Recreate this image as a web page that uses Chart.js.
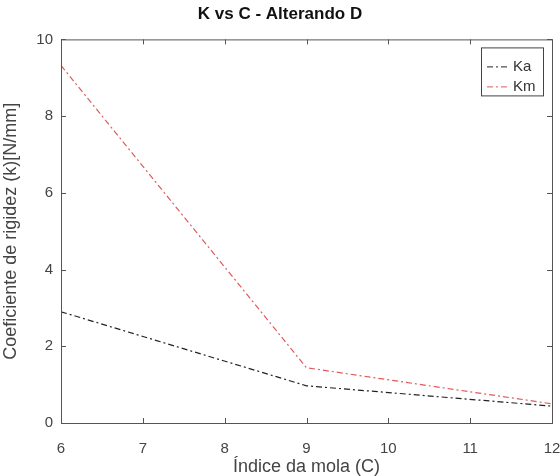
<!DOCTYPE html>
<html>
<head>
<meta charset="utf-8">
<script src="https://cdn.jsdelivr.net/npm/chart.js@4/dist/chart.umd.min.js"></script>
<style>
  html, body { margin: 0; padding: 0; background: #fff; }
  #wrap { width: 560px; height: 476px; }
</style>
</head>
<body>
<div id="wrap"><canvas id="myChart1"></canvas></div>
<script>
// data
var indiceC = [6, 9, 12];
var ka = [2.9, 0.97, 0.44];
var km = [9.32, 1.44, 0.5];
var xTicks = [6, 7, 8, 9, 10, 11, 12];
var yTicks = [0, 2, 4, 6, 8, 10];

var font = "'Liberation Sans', Arial, sans-serif";

// box around the axes, inward ticks and the legend inside the plot (MATLAB look)
var boxPlugin = {
  id: 'box',
  afterDraw: function (chart) {
    var ctx = chart.ctx, a = chart.chartArea;
    var xs = chart.scales.x, ys = chart.scales.y;
    ctx.save();
    ctx.strokeStyle = '#555';
    ctx.lineWidth = 1;
    ctx.setLineDash([]);
    ctx.strokeRect(a.left + 0.5, a.top + 0.5, a.right - a.left, a.bottom - a.top);
    ctx.beginPath();
    xTicks.forEach(function (v) {
      var px = Math.round(xs.getPixelForValue(v)) + 0.5;
      ctx.moveTo(px, a.bottom); ctx.lineTo(px, a.bottom - 5);
      ctx.moveTo(px, a.top); ctx.lineTo(px, a.top + 5);
    });
    yTicks.forEach(function (v) {
      var py = Math.round(ys.getPixelForValue(v)) + 0.5;
      ctx.moveTo(a.left, py); ctx.lineTo(a.left + 5, py);
      ctx.moveTo(a.right, py); ctx.lineTo(a.right - 5, py);
    });
    ctx.stroke();

    // legend
    var lx = a.right - 71, ly = a.top + 8, lw = 62, lh = 48;
    ctx.fillStyle = '#fff';
    ctx.fillRect(lx, ly, lw, lh);
    ctx.strokeStyle = '#444';
    ctx.strokeRect(lx + 0.5, ly + 0.5, lw, lh);
    ctx.font = '15px ' + font;
    ctx.textBaseline = 'middle';
    chart.data.datasets.forEach(function (ds, i) {
      var y = ly + 19 + i * 20;
      ctx.strokeStyle = ds.borderColor;
      ctx.setLineDash(ds.borderDash);
      ctx.beginPath();
      ctx.moveTo(lx + 6, y + 0.5); ctx.lineTo(lx + 28, y + 0.5);
      ctx.stroke();
      ctx.setLineDash([]);
      ctx.fillStyle = '#333';
      ctx.fillText(ds.label, lx + 32, y);
    });
    ctx.restore();
  }
};

var ctx = document.getElementById('myChart1').getContext('2d');
var myChart = new Chart(ctx, {
  type: 'line',
  data: {
    datasets: [{
      label: 'Ka',
      data: indiceC.map(function (c, i) { return { x: c, y: ka[i] }; }),
      borderColor: '#222',
      borderWidth: 1.2,
      borderDash: [6, 3, 2, 3],
      pointRadius: 0,
      fill: false,
      tension: 0
    }, {
      label: 'Km',
      data: indiceC.map(function (c, i) { return { x: c, y: km[i] }; }),
      borderColor: '#e05a5a',
      borderWidth: 1.2,
      borderDash: [6, 3, 2, 3],
      pointRadius: 0,
      fill: false,
      tension: 0
    }]
  },
  options: {
    responsive: true,
    maintainAspectRatio: false,
    animation: false,
    layout: { padding: { left: 0, right: 0, top: 0, bottom: 0 } },
    plugins: {
      legend: { display: false },
      tooltip: { enabled: false },
      title: {
        display: true,
        text: 'K vs C - Alterando D',
        color: '#111',
        font: { family: font, size: 17, weight: 'bold' },
        padding: { top: 4, bottom: 15 }
      }
    },
    scales: {
      x: {
        type: 'linear',
        min: 6,
        max: 12,
        afterBuildTicks: function (s) { s.ticks = xTicks.map(function (v) { return { value: v }; }); },
        afterFit: function (s) { s.height = 53; s.paddingRight = 8; },
        grid: { display: false, drawTicks: false },
        border: { display: false },
        ticks: { color: '#444', font: { family: font, size: 15 }, padding: 17 },
        title: {
          display: true,
          text: 'Índice da mola (C)',
          color: '#444',
          font: { family: font, size: 18 },
          padding: { top: 0, bottom: -2 }
        }
      },
      y: {
        min: 0,
        max: 10,
        afterBuildTicks: function (s) { s.ticks = yTicks.map(function (v) { return { value: v }; }); },
        afterFit: function (s) { s.width = 61; },
        grid: { display: false, drawTicks: false },
        border: { display: false },
        ticks: { color: '#444', font: { family: font, size: 15 }, padding: 8 },
        title: {
          display: true,
          text: 'Coeficiente de rigidez (k)[N/mm]',
          color: '#444',
          font: { family: font, size: 18 },
          padding: { top: 0, bottom: 0 }
        }
      }
    }
  },
  plugins: [boxPlugin]
});
</script>
</body>
</html>
